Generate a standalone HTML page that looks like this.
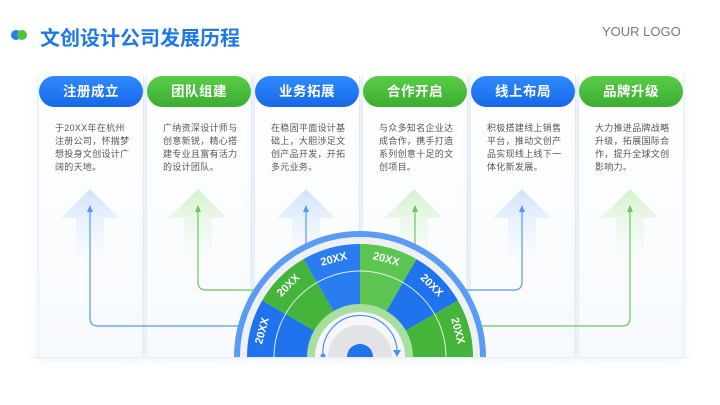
<!DOCTYPE html>
<html style="overflow:hidden;width:720px;height:405px"><head><meta charset="utf-8"><style>
body{margin:0;width:720px;height:405px;overflow:hidden;background:#fff;font-family:"Liberation Sans","Noto Sans CJK SC",sans-serif;position:relative}
.card{position:absolute;top:75px;width:104px;height:282px;background:linear-gradient(#fff,#f7fafd);box-shadow:0 2px 8px rgba(120,160,210,.18);border-left:1px solid #e4eef6;border-right:1px solid #e4eef6}
.pill{position:absolute;left:0;top:1px;width:104px;height:31px;border-radius:16px;color:#fff;font-weight:bold;font-size:13.5px;text-align:center;line-height:31px;letter-spacing:.5px}
.b{background:linear-gradient(#2f8bff,#1667e6)}
.g{background:linear-gradient(#5ccc4a,#3aae2f)}
.txt{position:absolute;left:16px;top:47px;width:78px;font-size:9px;line-height:13px;color:#555;letter-spacing:.3px}
</style></head><body>
<div style="position:absolute;left:11px;top:30px;width:10px;height:10px;border-radius:50%;background:#2a7cf0"></div>
<div style="position:absolute;left:17px;top:30px;width:10px;height:10px;border-radius:50%;background:#4cc23f"></div>
<div style="position:absolute;left:40px;top:22px;font-size:20px;font-weight:bold;color:#1f78ea">文创设计公司发展历程</div>
<div style="position:absolute;left:602px;top:24px;font-size:13px;color:#777">YOUR LOGO</div>

<div class="card" style="left:38px"><div class="pill b">注册成立</div><div class="txt">于20XX年在杭州注册公司，怀揣梦想投身文创设计广阔的天地。</div></div>
<div class="card" style="left:146px"><div class="pill g">团队组建</div><div class="txt">广纳资深设计师与创意新锐，精心搭建专业且富有活力的设计团队。</div></div>
<div class="card" style="left:254px"><div class="pill b">业务拓展</div><div class="txt">在稳固平面设计基础上，大胆涉足文创产品开发，开拓多元业务。</div></div>
<div class="card" style="left:362px"><div class="pill g">合作开启</div><div class="txt">与众多知名企业达成合作，携手打造系列创意十足的文创项目。</div></div>
<div class="card" style="left:470px"><div class="pill b">线上布局</div><div class="txt">积极搭建线上销售平台，推动文创产品实现线上线下一体化新发展。</div></div>
<div class="card" style="left:578px"><div class="pill g">品牌升级</div><div class="txt">大力推进品牌战略升级，拓展国际合作，提升全球文创影响力。</div></div>

<svg width="720" height="405" style="position:absolute;left:0;top:0">
<defs>
<linearGradient id="ab" x1="0" y1="0" x2="0" y2="1"><stop offset="0" stop-color="#cfe2fb"/><stop offset="1" stop-color="#fff" stop-opacity="0"/></linearGradient>
<linearGradient id="ag" x1="0" y1="0" x2="0" y2="1"><stop offset="0" stop-color="#d3f0cd"/><stop offset="1" stop-color="#fff" stop-opacity="0"/></linearGradient>
<clipPath id="cl"><rect x="0" y="0" width="720" height="357"/></clipPath>
</defs>
<g>
<path d="M61 218 L90 189 L119 218 L104 218 L104 280 L76 280 L76 218Z" fill="url(#ab)"/>
<path d="M169 218 L198 189 L227 218 L212 218 L212 280 L184 280 L184 218Z" fill="url(#ag)"/>
<path d="M277 218 L306 189 L335 218 L320 218 L320 280 L292 280 L292 218Z" fill="url(#ab)"/>
<path d="M385 218 L414 189 L443 218 L428 218 L428 280 L400 280 L400 218Z" fill="url(#ag)"/>
<path d="M493 218 L522 189 L551 218 L536 218 L536 280 L508 280 L508 218Z" fill="url(#ab)"/>
<path d="M601 218 L630 189 L659 218 L644 218 L644 280 L616 280 L616 218Z" fill="url(#ag)"/>
</g>
<g fill="none" stroke-width="1.2">
<path d="M90 210 V318 Q90 326 98 326 H240" stroke="#5b97ea"/>
<path d="M198 210 V282 Q198 290 206 290 H260" stroke="#6cc65e"/>
<path d="M306 210 V250" stroke="#5b97ea"/>
<path d="M415 210 V250" stroke="#6cc65e"/>
<path d="M522 210 V282 Q522 290 514 290 H460" stroke="#5b97ea"/>
<path d="M630 210 V318 Q630 326 622 326 H480" stroke="#6cc65e"/>
</g>
<g>
<path d="M87 212 L90 205 L93 212Z" fill="#5b97ea"/><path d="M195 212 L198 205 L201 212Z" fill="#6cc65e"/>
<path d="M303 212 L306 205 L309 212Z" fill="#5b97ea"/><path d="M412 212 L415 205 L418 212Z" fill="#6cc65e"/>
<path d="M519 212 L522 205 L525 212Z" fill="#5b97ea"/><path d="M627 212 L630 205 L633 212Z" fill="#6cc65e"/>
</g>
<g clip-path="url(#cl)">
<circle cx="360" cy="357" r="126" fill="#5a9cf3"/>
<circle cx="360" cy="357" r="120" fill="#eef0f3"/>
<path d="M247 357 A113 113 0 0 1 262.1 300.5 L360 357Z" fill="#1f73ec"/>
<path d="M262.1 300.5 A113 113 0 0 1 303.5 259.1 L360 357Z" fill="#45b43a"/>
<path d="M303.5 259.1 A113 113 0 0 1 360 244 L360 357Z" fill="#2a7df0"/>
<path d="M360 244 A113 113 0 0 1 416.5 259.1 L360 357Z" fill="#5cc450"/>
<path d="M416.5 259.1 A113 113 0 0 1 457.9 300.5 L360 357Z" fill="#1f73ec"/>
<path d="M457.9 300.5 A113 113 0 0 1 473 357 L360 357Z" fill="#45b43a"/>
<circle cx="360" cy="357" r="86" fill="none" stroke="#fff" stroke-width="1" opacity=".85"/>
<circle cx="360" cy="357" r="53" fill="#a8dfa0"/>
<circle cx="360" cy="357" r="45" fill="#f6f6f6"/>
<circle cx="360" cy="357" r="32" fill="#e2e3e6"/>
<path d="M323 355 A37 37 0 0 1 397 350" fill="none" stroke="#4d8ff0" stroke-width="1.2"/>
<path d="M393 350 L397 357 L401 350Z" fill="#4d8ff0"/>
<circle cx="323" cy="356" r="2.5" fill="#4d8ff0"/>
<circle cx="360" cy="357" r="13" fill="#1f73ec"/>
<g fill="#fff" font-size="11" font-weight="bold" font-family="Liberation Sans,sans-serif" text-anchor="middle" dominant-baseline="middle">
<text transform="translate(262.6,330.9) rotate(-75)">20XX</text>
<text transform="translate(288.7,285.7) rotate(-45)">20XX</text>
<text transform="translate(333.9,259.6) rotate(-15)">20XX</text>
<text transform="translate(386.1,259.6) rotate(15)">20XX</text>
<text transform="translate(431.3,285.7) rotate(45)">20XX</text>
<text transform="translate(457.4,330.9) rotate(75)">20XX</text>
</g>
</g>
<line x1="30" y1="357.5" x2="690" y2="357.5" stroke="#e6eef8" stroke-width="1"/>
</svg>
</body></html>
